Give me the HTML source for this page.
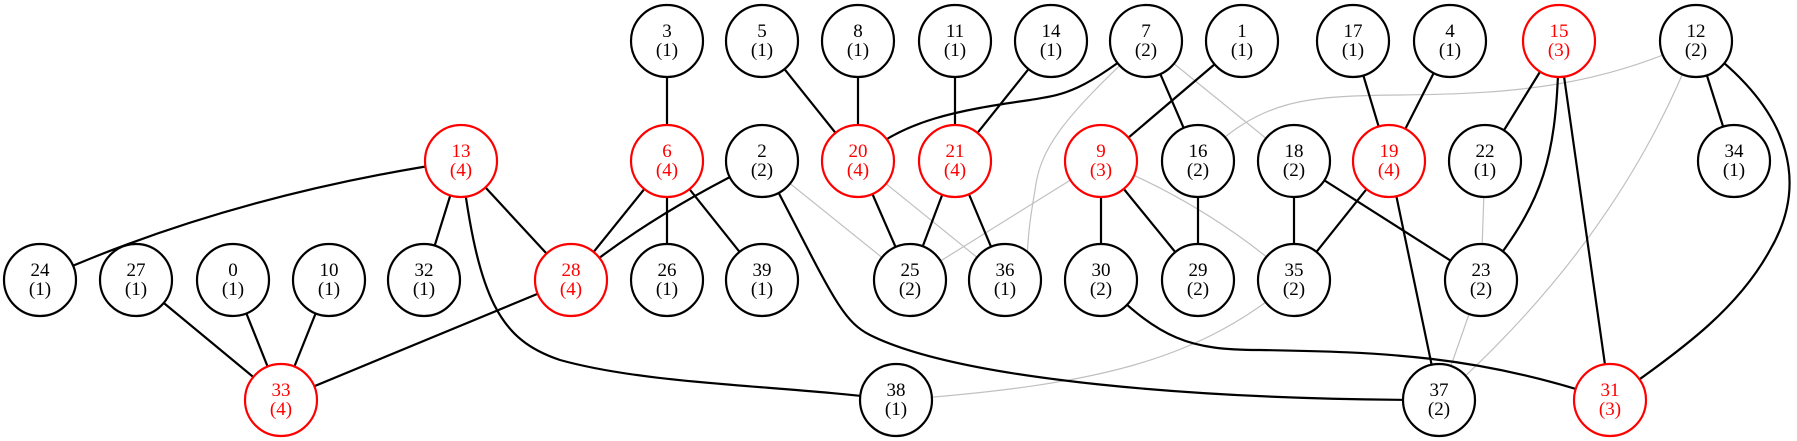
<!DOCTYPE html>
<html><head><meta charset="utf-8"><style>
html,body{margin:0;padding:0;background:#fff;}
svg{display:block;}
text{font-family:"Liberation Serif",serif;font-size:19px;text-anchor:middle;}
</style></head><body>
<svg width="1797" height="441" viewBox="0 0 1797 441" xmlns="http://www.w3.org/2000/svg">
<g fill="none" stroke="#c0c0c0" stroke-width="1.2">
<line x1="762" y1="161" x2="910" y2="280"/>
<line x1="858" y1="161" x2="1005" y2="280"/>
<path d="M1146,41 C1060,120 1040,150 1035,190 C1030,220 1028,230 1026,280"/>
<line x1="1146" y1="41" x2="1294" y2="161"/>
<line x1="1101" y1="161" x2="910" y2="280"/>
<path d="M1101,161 Q1210,205 1294,280"/>
<path d="M1696,41 C1600,85 1520,94 1400,95 C1300,96 1260,100 1198,161"/>
<path d="M1696,41 Q1620,240 1439,400"/>
<line x1="1485" y1="161" x2="1481" y2="280"/>
<line x1="1481" y1="280" x2="1439" y2="400"/>
<path d="M1294,280 C1200,360 1100,385 896,400"/>
</g>
<g fill="none" stroke="#000" stroke-width="2.2">
<path d="M461,161 Q229,195 40,280"/>
<line x1="461" y1="161" x2="424" y2="280"/>
<line x1="461" y1="161" x2="571" y2="280"/>
<path d="M461,161 C478,300 500,340 560,360 C650,385 780,385 896,400"/>
<line x1="136" y1="280" x2="281" y2="400"/>
<line x1="233" y1="280" x2="281" y2="400"/>
<line x1="329" y1="280" x2="281" y2="400"/>
<line x1="571" y1="280" x2="281" y2="400"/>
<line x1="667" y1="41" x2="667" y2="161"/>
<line x1="667" y1="161" x2="571" y2="280"/>
<line x1="667" y1="161" x2="667" y2="280"/>
<line x1="667" y1="161" x2="762" y2="280"/>
<path d="M762,161 Q650,215 571,280"/>
<path d="M762,161 C830,290 840,320 870,335 C960,380 1200,400 1439,400"/>
<line x1="762" y1="41" x2="858" y2="161"/>
<line x1="858" y1="41" x2="858" y2="161"/>
<path d="M1146,41 C1080,95 1060,95 1030,100 C960,110 900,120 858,161"/>
<line x1="955" y1="41" x2="955" y2="161"/>
<line x1="1051" y1="41" x2="955" y2="161"/>
<line x1="858" y1="161" x2="910" y2="280"/>
<line x1="955" y1="161" x2="910" y2="280"/>
<line x1="955" y1="161" x2="1005" y2="280"/>
<line x1="1146" y1="41" x2="1198" y2="161"/>
<line x1="1242" y1="41" x2="1101" y2="161"/>
<line x1="1101" y1="161" x2="1101" y2="280"/>
<line x1="1101" y1="161" x2="1198" y2="280"/>
<line x1="1198" y1="161" x2="1198" y2="280"/>
<line x1="1294" y1="161" x2="1294" y2="280"/>
<line x1="1294" y1="161" x2="1481" y2="280"/>
<line x1="1389" y1="161" x2="1294" y2="280"/>
<line x1="1389" y1="161" x2="1439" y2="400"/>
<line x1="1353" y1="41" x2="1389" y2="161"/>
<line x1="1450" y1="41" x2="1389" y2="161"/>
<line x1="1559" y1="41" x2="1485" y2="161"/>
<path d="M1559,41 C1557,160 1545,200 1481,280"/>
<line x1="1559" y1="41" x2="1610" y2="400"/>
<line x1="1696" y1="41" x2="1734" y2="161"/>
<path d="M1696,41 C1800,115 1805,190 1770,250 C1740,305 1690,345 1610,400"/>
<path d="M1101,280 C1160,340 1190,350 1260,350 C1380,352 1480,355 1610,400"/>
</g>
<g stroke-width="2.2" fill="#fff">
<g stroke="#000">
<circle cx="667" cy="41" r="36"/><circle cx="762" cy="41" r="36"/><circle cx="858" cy="41" r="36"/><circle cx="955" cy="41" r="36"/><circle cx="1051" cy="41" r="36"/><circle cx="1146" cy="41" r="36"/><circle cx="1242" cy="41" r="36"/><circle cx="1353" cy="41" r="36"/><circle cx="1450" cy="41" r="36"/><circle cx="1696" cy="41" r="36"/>
<circle cx="762" cy="161" r="36"/><circle cx="1198" cy="161" r="36"/><circle cx="1294" cy="161" r="36"/><circle cx="1485" cy="161" r="36"/><circle cx="1734" cy="161" r="36"/>
<circle cx="40" cy="280" r="36"/><circle cx="136" cy="280" r="36"/><circle cx="233" cy="280" r="36"/><circle cx="329" cy="280" r="36"/><circle cx="424" cy="280" r="36"/><circle cx="667" cy="280" r="36"/><circle cx="762" cy="280" r="36"/><circle cx="910" cy="280" r="36"/><circle cx="1005" cy="280" r="36"/><circle cx="1101" cy="280" r="36"/><circle cx="1198" cy="280" r="36"/><circle cx="1294" cy="280" r="36"/><circle cx="1481" cy="280" r="36"/>
<circle cx="896" cy="400" r="36"/><circle cx="1439" cy="400" r="36"/>
</g>
<g stroke="#f00">
<circle cx="1559" cy="41" r="36"/><circle cx="461" cy="161" r="36"/><circle cx="667" cy="161" r="36"/><circle cx="858" cy="161" r="36"/><circle cx="955" cy="161" r="36"/><circle cx="1101" cy="161" r="36"/><circle cx="1389" cy="161" r="36"/><circle cx="571" cy="280" r="36"/><circle cx="281" cy="400" r="36"/><circle cx="1610" cy="400" r="36"/>
</g>
</g>
<g fill="#000">
<text x="667" y="37">3</text><text x="667" y="56">(1)</text>
<text x="762" y="37">5</text><text x="762" y="56">(1)</text>
<text x="858" y="37">8</text><text x="858" y="56">(1)</text>
<text x="955" y="37">11</text><text x="955" y="56">(1)</text>
<text x="1051" y="37">14</text><text x="1051" y="56">(1)</text>
<text x="1146" y="37">7</text><text x="1146" y="56">(2)</text>
<text x="1242" y="37">1</text><text x="1242" y="56">(1)</text>
<text x="1353" y="37">17</text><text x="1353" y="56">(1)</text>
<text x="1450" y="37">4</text><text x="1450" y="56">(1)</text>
<text x="1696" y="37">12</text><text x="1696" y="56">(2)</text>
<text x="762" y="157">2</text><text x="762" y="176">(2)</text>
<text x="1198" y="157">16</text><text x="1198" y="176">(2)</text>
<text x="1294" y="157">18</text><text x="1294" y="176">(2)</text>
<text x="1485" y="157">22</text><text x="1485" y="176">(1)</text>
<text x="1734" y="157">34</text><text x="1734" y="176">(1)</text>
<text x="40" y="276">24</text><text x="40" y="295">(1)</text>
<text x="136" y="276">27</text><text x="136" y="295">(1)</text>
<text x="233" y="276">0</text><text x="233" y="295">(1)</text>
<text x="329" y="276">10</text><text x="329" y="295">(1)</text>
<text x="424" y="276">32</text><text x="424" y="295">(1)</text>
<text x="667" y="276">26</text><text x="667" y="295">(1)</text>
<text x="762" y="276">39</text><text x="762" y="295">(1)</text>
<text x="910" y="276">25</text><text x="910" y="295">(2)</text>
<text x="1005" y="276">36</text><text x="1005" y="295">(1)</text>
<text x="1101" y="276">30</text><text x="1101" y="295">(2)</text>
<text x="1198" y="276">29</text><text x="1198" y="295">(2)</text>
<text x="1294" y="276">35</text><text x="1294" y="295">(2)</text>
<text x="1481" y="276">23</text><text x="1481" y="295">(2)</text>
<text x="896" y="396">38</text><text x="896" y="415">(1)</text>
<text x="1439" y="396">37</text><text x="1439" y="415">(2)</text>
</g>
<g fill="#f00">
<text x="1559" y="37">15</text><text x="1559" y="56">(3)</text>
<text x="461" y="157">13</text><text x="461" y="176">(4)</text>
<text x="667" y="157">6</text><text x="667" y="176">(4)</text>
<text x="858" y="157">20</text><text x="858" y="176">(4)</text>
<text x="955" y="157">21</text><text x="955" y="176">(4)</text>
<text x="1101" y="157">9</text><text x="1101" y="176">(3)</text>
<text x="1389" y="157">19</text><text x="1389" y="176">(4)</text>
<text x="571" y="276">28</text><text x="571" y="295">(4)</text>
<text x="281" y="396">33</text><text x="281" y="415">(4)</text>
<text x="1610" y="396">31</text><text x="1610" y="415">(3)</text>
</g>
</svg>
</body></html>
